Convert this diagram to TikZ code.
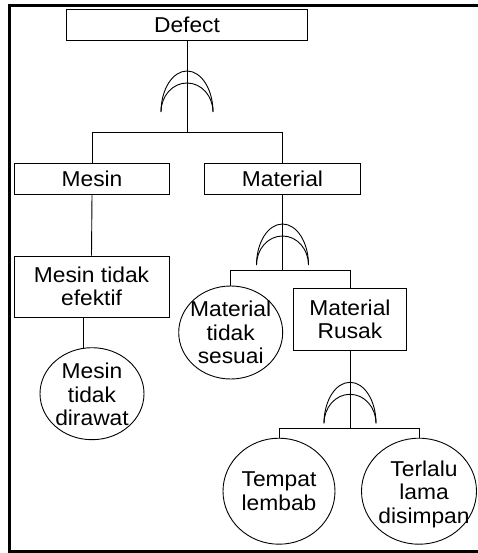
\documentclass[tikz,border=0pt]{standalone}
\usepackage{fontspec}
\setmainfont{Liberation Sans}[FakeStretch=1.06]
\usetikzlibrary{shapes.geometric}
\begin{document}
\begin{tikzpicture}[x=1pt,y=-1pt,
  lbl/.style={font=\fontsize{21.5}{23.5}\selectfont, align=center, inner sep=0pt},
  box/.style={draw, rectangle, inner sep=0pt, line width=0.9pt, lbl},
  ev/.style={draw, ellipse, inner sep=0pt, line width=0.9pt},
  ln/.style={line width=0.9pt},
  frame/.style={line width=3pt},
  orgate/.pic={
    \draw[ln] (-26,0) .. controls (-26,-22.6) and (-14.4,-41) .. (0,-41)
              .. controls (14.4,-41) and (26,-22.6) .. (26,0);
    \draw[ln] (-26,0) .. controls (-26,-16) and (-14.4,-29) .. (0,-29)
              .. controls (14.4,-29) and (26,-16) .. (26,0);
  }]
\useasboundingbox (0,0) rectangle (478,553);
\draw[frame] (478,5.5) -- (9.5,5.5) -- (9.5,551.8) -- (478,551.8);

% boxes
\node[box, minimum width=241pt, minimum height=31pt] (defect) at (187,24.5) {Defect};
\node[box, minimum width=155pt, minimum height=31pt] (mesin) at (92,178.5) {Mesin};
\node[box, minimum width=156pt, minimum height=31pt] (material) at (282.5,178.5) {Material};
\node[box, minimum width=155pt, minimum height=61pt] (mte) at (91.5,286.5) {Mesin tidak\\efektif};
\node[box, minimum width=113pt, minimum height=62pt] (mr) at (350,319.5) {Material\\Rusak};

% events (ellipses)
\node[ev, minimum width=104pt, minimum height=92pt] (mtd) at (92,393.7) {};
\node[lbl] (mtdt) at ([shift={(0,1)}]mtd.center) {Mesin\\tidak\\dirawat};
\node[ev, minimum width=104pt, minimum height=93pt] (mts) at (230.7,332.5) {};
\node[lbl] (mtst) at (mts.center) {Material\\tidak\\sesuai};
\node[ev, minimum width=112pt, minimum height=106pt] (tl) at (279,491.2) {};
\node[lbl] (tlt) at (tl.center) {Tempat\\lembab};
\node[ev, minimum width=115pt, minimum height=106pt] (tld) at (419,491.2) {};
\node[lbl] (tldt) at ([shift={(5,3)}]tld.center) {Terlalu\\lama\\disimpan};

% junction coordinates
\coordinate (b1) at (187,132);
\coordinate (b2) at (282.5,270.7);
\coordinate (b3) at (350,428);

% gates
\pic at (187,112) {orgate};
\pic at (282.5,265) {orgate};
\pic at (350,423.3) {orgate};

% connectors
\draw[ln] (defect.south) -- (b1);
\draw[ln] (mesin.north) |- (b1);
\draw[ln] (material.north) |- (b1);
\draw[ln] (mesin.south) -- (mte.north);
\draw[ln] (mtd.100) -- (mtd.100 |- mte.south);
\draw[ln] (material.south) -- (b2);
\draw[ln] (mts.north) |- (b2);
\draw[ln] (mr.north) |- (b2);
\draw[ln] (mr.south) -- (b3);
\draw[ln] (tl.north) |- (b3);
\draw[ln] (tld.north) |- (b3);
\end{tikzpicture}
\end{document}
